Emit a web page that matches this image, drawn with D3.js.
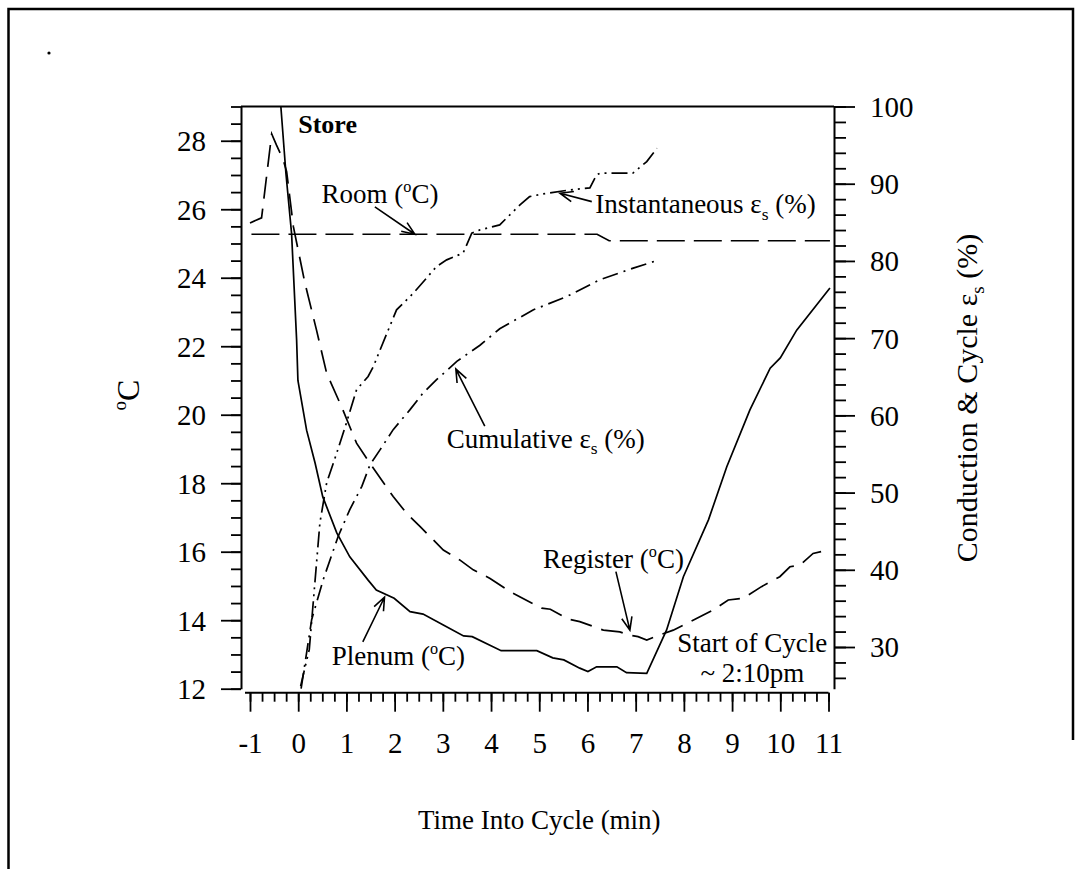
<!DOCTYPE html>
<html>
<head>
<meta charset="utf-8">
<script src="https://cdn.jsdelivr.net/npm/d3@7"></script>
<style>
  body { margin: 0; background: #fff; }
  svg, svg text { font-family: "Liberation Serif", "Times New Roman", serif; }
</style>
</head>
<body>
<svg id="chart" width="1081" height="869"></svg>
<script>
// time into cycle (min) vs temperature (°C)
const plenum = [[-0.36,29.0],[-0.255,27.05],[-0.137,25.28],[-0.033,22.18],[-0.006,21.0],[0.174,19.55],
  [0.35,18.59],[0.51,17.6],[0.8,16.55],[1.07,15.85],[1.45,15.17],[1.62,14.88],[1.99,14.64],[2.32,14.25],
  [2.59,14.18],[3.01,13.86],[3.43,13.54],[3.61,13.52],[4.21,13.11],[4.95,13.11],[5.28,12.9],[5.51,12.84],
  [5.84,12.6],[6.01,12.5],[6.19,12.64],[6.61,12.64],[6.81,12.47],[7.23,12.45],[7.64,13.71],[7.99,15.27],
  [8.51,16.93],[8.89,18.48],[9.37,20.14],[9.79,21.36],[10.0,21.66],[10.34,22.47],[11.03,23.7]];

const register = [[-1,25.6],[-0.76,25.75],[-0.55,28.2],[-0.45,27.87],[-0.31,27.44],[-0.24,27.1],[-0.1,25.49],
  [0.14,23.84],[0.38,22.47],[0.59,21.21],[0.9,20.23],[1.21,19.17],[1.49,18.58],[1.97,17.61],[2.25,17.12],
  [2.53,16.73],[3.01,16.05],[3.35,15.76],[3.63,15.47],[3.98,15.22],[4.4,14.83],[5.05,14.35],[5.23,14.32],
  [5.6,14.03],[5.84,13.96],[6.33,13.71],[6.67,13.66],[6.85,13.57],[7.05,13.52],[7.23,13.42],[7.5,13.57],
  [7.78,13.71],[8.61,14.3],[8.92,14.59],[9.23,14.64],[9.61,14.98],[9.99,15.27],[10.2,15.56],[10.41,15.61],
  [10.68,15.95],[11.0,16.05]];

const room = [[-0.97,25.27],[6.2,25.27],[6.45,25.08],[11.03,25.08]];

// time into cycle (min) vs effectiveness (%)
const instantaneous = [[0.05,24.94],[0.23,29.69],[0.45,46.08],[0.59,51.25],[0.8,55.14],[1.0,59.02],[1.21,63.32],
  [1.45,65.04],[1.56,66.34],[1.7,68.5],[1.87,71.09],[2.04,73.67],[2.39,75.83],[2.87,79.28],[3.08,80.14],
  [3.42,81.01],[3.6,83.6],[3.77,84.02],[4.18,84.67],[4.6,87.26],[4.8,88.33],[5.08,88.68],[5.64,89.2],
  [6.05,89.46],[6.19,91.14],[6.26,91.36],[6.94,91.36],[7.23,92.86],[7.44,94.59]];

const cumulative = [[0.06,24.6],[0.28,33.57],[0.52,38.75],[0.83,44.35],[1.07,47.8],[1.32,50.81],[1.49,53.62],
  [1.7,55.56],[1.97,58.15],[2.32,60.74],[2.59,62.9],[2.87,64.62],[3.29,66.99],[3.77,69.08],[4.18,71.22],
  [4.88,73.67],[5.57,75.39],[6.26,77.57],[6.95,79.07],[7.44,80.05]];

const xTicks = d3.range(-1, 12, 1);
const xMinor = d3.range(-1, 11.01, 0.25);
const leftTicks = d3.range(12, 29, 2);
const leftMinor = d3.range(12, 29.01, 0.5);
const rightTicks = d3.range(30, 101, 10);
const rightMinor = d3.range(26, 101, 2);

const svg = d3.select("#chart");

const x = d3.scaleLinear().domain([-1, 11]).range([250, 828.5]);
const yL = d3.scaleLinear().domain([12, 29]).range([688.7, 106.5]);
const yR = d3.scaleLinear().domain([24.6, 100]).range([688.7, 106.5]);

const plotLeft = 241, plotRight = 834, plotTop = 106.5, plotBottom = 688.7;
const fmt = d => String(d);

// page frame
svg.append("path")
  .attr("d", "M8.5,869 L8.5,9 L1073,9 L1073,740")
  .attr("fill", "none").attr("stroke", "#000").attr("stroke-width", 2.5);
svg.append("circle").attr("cx", 49).attr("cy", 53).attr("r", 1.6).attr("fill", "#000");

// plot top line
svg.append("line")
  .attr("x1", plotLeft).attr("x2", plotRight).attr("y1", plotTop).attr("y2", plotTop)
  .attr("stroke", "#000").attr("stroke-width", 2);

// left axis
svg.append("g")
  .attr("transform", `translate(${plotLeft},0)`)
  .call(d3.axisLeft(yL).tickValues(leftMinor).tickSize(10).tickFormat(""))
  .call(g => g.select(".domain").remove());
const gl = svg.append("g")
  .attr("transform", `translate(${plotLeft},0)`)
  .call(d3.axisLeft(yL).tickValues(leftTicks).tickSize(20).tickSizeOuter(0).tickPadding(15).tickFormat(fmt));
gl.select(".domain").attr("stroke-width", 2);
gl.selectAll("text").attr("dy", "0.34em");

// right axis
svg.append("g")
  .attr("transform", `translate(${plotRight},0)`)
  .call(d3.axisRight(yR).tickValues(rightMinor).tickSize(12).tickFormat(""))
  .call(g => g.select(".domain").remove());
const gr = svg.append("g")
  .attr("transform", `translate(${plotRight},0)`)
  .call(d3.axisRight(yR).tickValues(rightTicks).tickSize(21).tickSizeOuter(0).tickPadding(15).tickFormat(fmt));
gr.select(".domain").attr("stroke-width", 2);
gr.selectAll("text").attr("dy", "0.34em");

// x axis
const xAxisY = 692.7;
svg.append("g")
  .attr("transform", `translate(0,${xAxisY})`)
  .call(d3.axisBottom(x).tickValues(xMinor).tickSize(9).tickFormat(""))
  .call(g => g.select(".domain").remove());
const gx = svg.append("g")
  .attr("transform", `translate(0,${xAxisY})`)
  .call(d3.axisBottom(x).tickValues(xTicks).tickSize(19).tickSizeOuter(0).tickPadding(21).tickFormat(fmt));
gx.select(".domain").attr("stroke-width", 2).attr("d", `M${x(-1) - 5},0H${x(11)}`);

[gl, gr, gx].forEach(g => g.attr("font-family", null).attr("font-size", 29));
svg.selectAll(".tick line").attr("stroke-width", 1.8);
svg.selectAll(".tick text").attr("fill", "#000");

// axis titles
const tl = svg.append("text")
  .attr("transform", "translate(139,395) rotate(-90)")
  .attr("text-anchor", "middle").style("font-size", "32px");
tl.append("tspan").attr("dy", -13).style("font-size", "19px").text("o");
tl.append("tspan").attr("dy", 13).text("C");

const tr = svg.append("text")
  .attr("transform", "translate(977,398) rotate(-90)")
  .attr("text-anchor", "middle").style("font-size", "30px");
tr.append("tspan").text("Conduction & Cycle ε");
tr.append("tspan").attr("dy", 7).style("font-size", "19px").text("s");
tr.append("tspan").attr("dy", -7).text(" (%)");

svg.append("text")
  .attr("x", x(5)).attr("y", 829)
  .attr("text-anchor", "middle").style("font-size", "27px")
  .text("Time Into Cycle (min)");

// curves
svg.append("clipPath").attr("id", "plot-clip")
  .append("rect").attr("x", plotLeft).attr("y", plotTop)
  .attr("width", plotRight - plotLeft).attr("height", plotBottom - plotTop + 2);

const lineL = d3.line().x(d => x(d[0])).y(d => yL(d[1]));
const lineR = d3.line().x(d => x(d[0])).y(d => yR(d[1]));

const curves = svg.append("g").attr("clip-path", "url(#plot-clip)")
  .attr("fill", "none").attr("stroke", "#000").attr("stroke-width", 1.7);

curves.append("path").attr("d", lineL(room)).attr("stroke-dasharray", "28,9");
curves.append("path").attr("d", lineL(register)).attr("stroke-dasharray", "22,10");
curves.append("path").attr("d", lineL(plenum));
curves.append("path").attr("d", lineR(instantaneous)).attr("stroke-dasharray", "16,5,2,5,2,5");
curves.append("path").attr("d", lineR(cumulative)).attr("stroke-dasharray", "16,6,2,6");

// annotations
function arrow(x1, y1, x2, y2) {
  const a = Math.atan2(y2 - y1, x2 - x1), len = 14, spread = 0.38;
  svg.append("path")
    .attr("d", `M${x1},${y1}L${x2},${y2}` +
      `M${x2 - len * Math.cos(a - spread)},${y2 - len * Math.sin(a - spread)}L${x2},${y2}` +
      `L${x2 - len * Math.cos(a + spread)},${y2 - len * Math.sin(a + spread)}`)
    .attr("fill", "none").attr("stroke", "#000").attr("stroke-width", 1.6);
}
// parts: plain strings, {up: "o"} for a superscript, {down: "s"} for a subscript
function label(px, py, parts, size) {
  const t = svg.append("text").attr("x", px).attr("y", py).style("font-size", size + "px");
  let shift = 0;
  parts.forEach(p => {
    if (typeof p === "string") {
      t.append("tspan").attr("dy", -shift).text(p);
      shift = 0;
    } else if (p.up) {
      shift = -size * 0.4;
      t.append("tspan").attr("dy", shift).style("font-size", (size * 0.6) + "px").text(p.up);
    } else if (p.down) {
      shift = size * 0.25;
      t.append("tspan").attr("dy", shift).style("font-size", (size * 0.65) + "px").text(p.down);
    }
  });
  return t;
}

svg.append("text").attr("x", x(0)).attr("y", yL(28.22))
  .style("font-size", "26px").style("font-weight", "bold").text("Store");

label(x(0.485), yL(26.18), ["Room (", {up: "o"}, "C)"], 27);
arrow(x(1.59), yL(26.07), x(2.42), yL(25.27));

label(x(6.16), yR(86.22), ["Instantaneous ε", {down: "s"}, " (%)"], 27);
arrow(x(6.09), yR(87.68), x(5.43), yR(88.77));

label(x(3.08), yR(55.82), ["Cumulative ε", {down: "s"}, " (%)"], 27);
arrow(x(3.87), yR(58.6), x(3.27), yR(66.0));

label(x(5.08), yL(15.52), ["Register (", {up: "o"}, "C)"], 27);
arrow(x(6.59), yL(15.42), x(6.88), yL(13.71));

label(x(0.695), yL(12.69), ["Plenum (", {up: "o"}, "C)"], 27);
arrow(x(1.34), yL(13.37), x(1.79), yL(14.67));

svg.append("text").attr("x", x(9.42)).attr("y", yL(13.08))
  .attr("text-anchor", "middle").style("font-size", "27px").text("Start of Cycle");
svg.append("text").attr("x", x(9.42)).attr("y", yL(12.2))
  .attr("text-anchor", "middle").style("font-size", "27px").text("~ 2:10pm");
</script>
</body>
</html>
